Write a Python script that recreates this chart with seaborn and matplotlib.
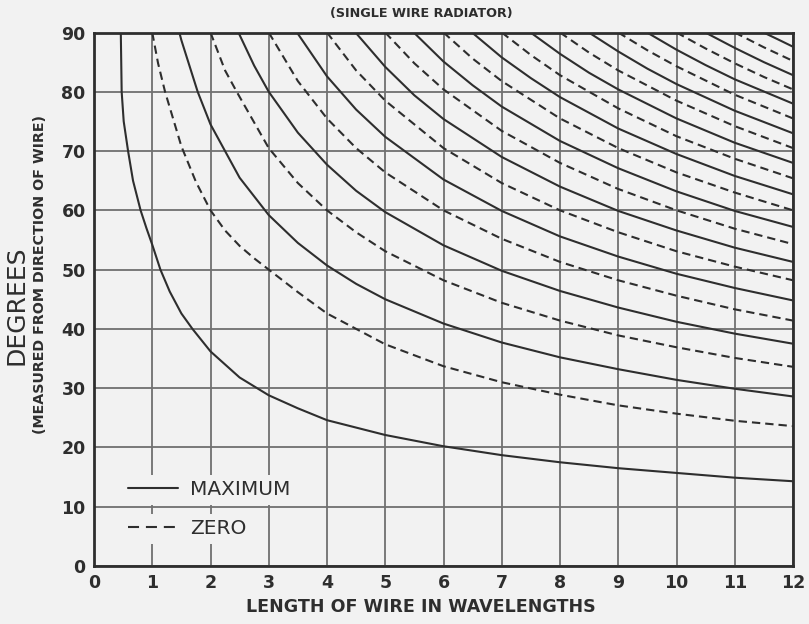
import matplotlib
matplotlib.use("Agg")
import matplotlib.pyplot as plt
import pandas as pd
import seaborn as sns
from matplotlib.lines import Line2D
from matplotlib.patches import Rectangle

# Each curve: (wire length in wavelengths, angle in degrees from the wire)
maximum_1 = ([0.46, 0.475, 0.51, 0.585, 0.67, 0.8, 0.9, 1.0, 1.14, 1.3, 1.5, 1.69, 2.0, 2.5,
              3.0, 3.5, 4, 5, 6, 7, 8, 9, 10, 11, 12],
             [90, 80, 75, 70, 65, 60, 57, 54.2, 50, 46.3, 42.6, 40, 36.2, 31.8,
              28.8, 26.6, 24.6, 22.1, 20.2, 18.7, 17.5, 16.5, 15.7, 14.9, 14.3])
maximum_2 = ([1.465, 1.5, 1.78, 2, 2.25, 2.5, 3, 3.5, 4, 4.5, 5, 6, 7, 8, 9, 10, 11, 12],
             [90, 88.7, 80, 74.5, 70, 65.5, 59.2, 54.5, 50.7, 47.6, 45.0, 40.9, 37.7, 35.2,
              33.2, 31.4, 29.9, 28.6])
maximum_3 = ([2.48, 2.75, 3, 3.5, 4, 4.5, 5, 6, 7, 8, 9, 10, 11, 12],
             [90, 84.4, 80.0, 73.1, 67.7, 63.3, 59.7, 54.1, 49.8, 46.4, 43.6, 41.2, 39.2, 37.5])
maximum_4 = ([3.485, 4, 4.5, 5, 6, 7, 8, 9, 10, 11, 12],
             [90, 82.6, 77.0, 72.4, 65.2, 59.9, 55.6, 52.2, 49.3, 46.9, 44.8])
maximum_5 = ([4.49, 5, 5.5, 6, 7, 8, 9, 10, 11, 12],
             [90, 84.2, 79.4, 75.4, 69.0, 64.0, 59.9, 56.6, 53.7, 51.3])
maximum_6 = ([5.49, 6, 6.5, 7, 8, 9, 10, 11, 12],
             [90, 85.1, 81.1, 77.5, 71.7, 67.1, 63.2, 59.9, 57.2])
maximum_7 = ([6.49, 7, 7.5, 8, 9, 10, 11, 12],
             [90, 85.8, 82.3, 79.1, 73.8, 69.5, 65.8, 62.7])
maximum_8 = ([7.495, 8, 8.5, 9, 10, 11, 12],
             [90, 86.4, 83.2, 80.4, 75.5, 71.4, 68.0])
maximum_9 = ([8.495, 9, 9.5, 10, 11, 12],
             [90, 86.8, 83.9, 81.3, 76.8, 73.0])
maximum_10 = ([9.495, 10, 10.5, 11, 12],
              [90, 87.1, 84.5, 82.1, 78.0])
maximum_11 = ([10.495, 11, 11.5, 12],
              [90, 87.4, 85.0, 82.8])
maximum_12 = ([11.495, 11.75, 12],
              [90, 88.8, 87.6])

zero_1 = ([1, 1.1, 1.22, 1.5, 1.75, 2, 2.25, 2.5, 2.75, 3, 3.5, 4, 5, 6, 7, 8, 9, 10, 11, 12],
          [90, 84.8, 80, 70.8, 64.8, 60, 56.6, 54.0, 51.9, 50, 46.2, 42.6, 37.4, 33.7, 31.0,
           28.9, 27.1, 25.7, 24.5, 23.6])
zero_2 = ([2, 2.25, 2.45, 3, 3.5, 4, 4.5, 5, 6, 7, 8, 9, 10, 11, 12],
          [90, 83.6, 80, 70.5, 64.6, 60, 56.3, 53.1, 48.2, 44.4, 41.4, 38.9, 36.9, 35.1, 33.6])
zero_3 = ([3, 3.5, 4, 4.5, 5, 6, 7, 8, 9, 10, 11, 12],
          [90, 81.8, 75.5, 70.5, 66.4, 60, 55.2, 51.3, 48.2, 45.6, 43.3, 41.4])
zero_4 = ([4, 4.5, 5, 6, 7, 8, 9, 10, 11, 12],
          [90, 83.6, 78.5, 70.5, 64.6, 60, 56.3, 53.1, 50.5, 48.2])
zero_5 = ([5, 5.5, 6, 7, 8, 9, 10, 11, 12],
          [90, 84.8, 80.4, 73.4, 68.0, 63.6, 60, 56.9, 54.3])
zero_6 = ([6, 6.5, 7, 8, 9, 10, 11, 12],
          [90, 85.6, 81.8, 75.5, 70.5, 66.4, 63.0, 60])
zero_7 = ([7, 7.5, 8, 9, 10, 11, 12],
          [90, 86.2, 82.8, 77.2, 72.5, 68.7, 65.4])
zero_8 = ([8, 8.5, 9, 10, 11, 12],
          [90, 86.6, 83.6, 78.5, 74.2, 70.5])
zero_9 = ([9, 9.5, 10, 11, 12],
          [90, 87.0, 84.3, 79.5, 75.5])
zero_10 = ([10, 10.5, 11, 11.5, 12],
           [90, 87.3, 84.8, 82.5, 80.4])
zero_11 = ([11, 11.5, 12],
           [90, 87.5, 85.2])

x_ticks = list(range(0, 13))
y_ticks = list(range(0, 91, 10))
legend_labels = ["MAXIMUM", "ZERO"]

maxima = [maximum_1, maximum_2, maximum_3, maximum_4, maximum_5, maximum_6,
          maximum_7, maximum_8, maximum_9, maximum_10, maximum_11, maximum_12]
zeros = [zero_1, zero_2, zero_3, zero_4, zero_5, zero_6, zero_7, zero_8,
         zero_9, zero_10, zero_11]

rows = []
for kind, family in (("MAXIMUM", maxima), ("ZERO", zeros)):
    for i, (lengths, angles) in enumerate(family):
        for length, angle in zip(lengths, angles):
            rows.append((kind, f"{kind}-{i}", length, angle))
df = pd.DataFrame(rows, columns=["kind", "curve", "length", "angle"])

sns.set_theme(style="white")
plt.rcParams["font.family"] = ["DejaVu Sans"]

BG = "#f2f2f2"
INK = "#2e2e2e"
GRID = "#707070"
W, H = 809, 624

fig = plt.figure(figsize=(W / 100, H / 100), dpi=100, facecolor=BG)
ax = fig.add_axes([94 / W, 1 - 566 / H, (793 - 94) / W, (566 - 32.5) / H])
ax.set_facecolor(BG)

sns.lineplot(data=df, x="length", y="angle", style="kind", units="curve",
             estimator=None, sort=False,
             dashes={"MAXIMUM": "", "ZERO": (4, 2.4)},
             color=INK, linewidth=1.5, ax=ax, legend=False)

ax.set_xlim(0, 12)
ax.set_ylim(0, 90)
ax.set_xticks(x_ticks)
ax.set_yticks(y_ticks)
ax.set_xticklabels([str(t) for t in x_ticks])
ax.set_yticklabels([str(t) for t in y_ticks])
ax.grid(True, color=GRID, linewidth=1.3, zorder=0.5)
ax.set_axisbelow(True)
ax.set_xlabel("")
ax.set_ylabel("")
ax.tick_params(length=0, labelsize=12.5, colors=INK, pad=6)
for lab in ax.get_xticklabels() + ax.get_yticklabels():
    lab.set_fontweight("bold")
for sp in ax.spines.values():
    sp.set_visible(True)
    sp.set_color(INK)
    sp.set_linewidth(2)

handles = [Line2D([], [], color=INK, linewidth=1.5),
           Line2D([], [], color=INK, linewidth=1.5, linestyle=(0, (5.3, 3.3)))]
leg = ax.legend(handles, legend_labels, loc="lower left", bbox_to_anchor=(0.026, 0.022),
                frameon=False, prop={"size": 14.5}, handlelength=2.45, handletextpad=0.62,
                labelspacing=1.0, borderpad=0.3)
for t in leg.get_texts():
    t.set_color(INK)

# Mask the grid behind each legend row so the entries read cleanly
fig.canvas.draw()
renderer = fig.canvas.get_renderer()
for h, t in zip(leg.legend_handles, leg.get_texts()):
    hb = h.get_window_extent(renderer)
    tb = t.get_window_extent(renderer)
    x0 = min(hb.x0, tb.x0) - 6
    x1 = max(hb.x1, tb.x1) + 6
    yc = (tb.y0 + tb.y1) / 2
    ax.add_patch(Rectangle((x0, yc - 15), x1 - x0, 30, transform=None,
                           facecolor=BG, edgecolor="none", zorder=1))

fig.text(421 / W, 1 - 14 / H, "(SINGLE WIRE RADIATOR)", ha="center", va="center",
         fontsize=9.2, fontweight="bold", color=INK)
fig.text(421 / W, 1 - 607 / H, "LENGTH OF WIRE IN WAVELENGTHS", ha="center", va="center",
         fontsize=12.6, fontweight="bold", color=INK)
fig.text(17 / W, 1 - 305 / H, "DEGREES", ha="center", va="center", rotation=90,
         fontsize=18, color=INK)
fig.text(40 / W, 1 - 275 / H, "(MEASURED FROM DIRECTION OF WIRE)", ha="center", va="center",
         rotation=90, fontsize=10.3, fontweight="bold", color=INK)

fig.savefig("out.png", dpi=100, facecolor=BG)
